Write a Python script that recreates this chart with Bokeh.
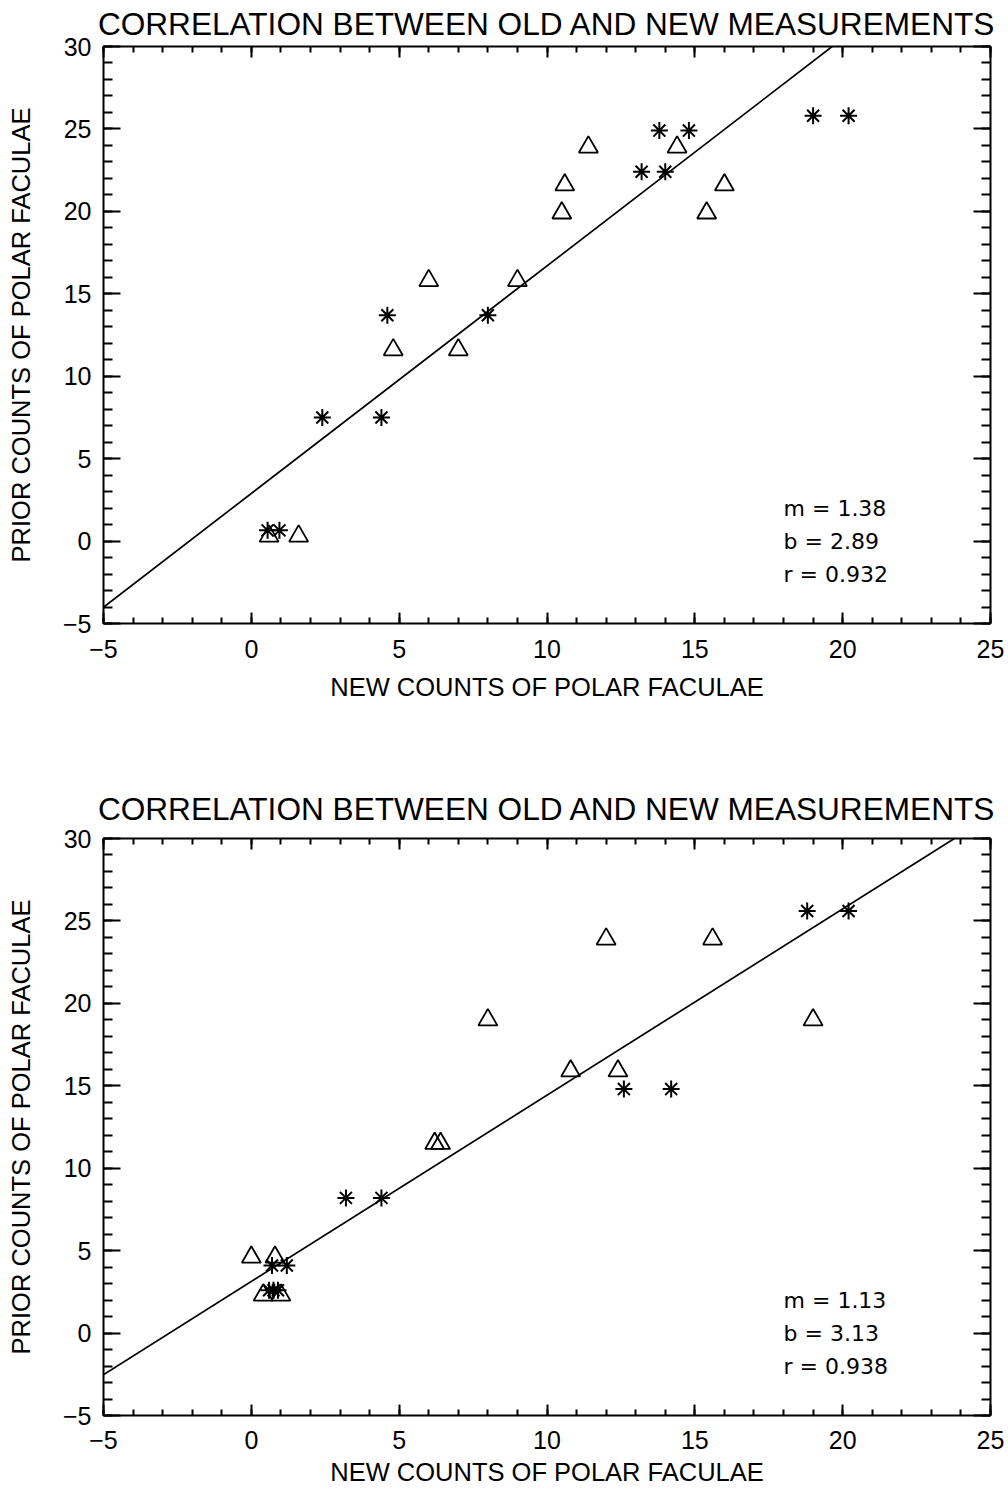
from bokeh.plotting import figure
from bokeh.models import (Range1d, LinearAxis, SingleIntervalTicker, Slope,
                          CustomLabelingPolicy)
from bokeh.layouts import column
from bokeh.embed import file_html
from bokeh.resources import INLINE
from bokeh.core.properties import value

# ---------------- data ----------------
TITLE = "CORRELATION BETWEEN OLD AND NEW MEASUREMENTS"
XLABEL = "NEW COUNTS OF POLAR FACULAE"
YLABEL = "PRIOR COUNTS OF POLAR FACULAE"
X_RANGE = [-5, 25]
Y_RANGE = [-5, 30]
TICK_OVERRIDES = {-5: "\u22125"}

# top panel
top_star_x = [0.55, 0.95, 2.4, 4.4, 4.6, 8.0, 13.2, 14.0, 13.8, 14.8, 19.0, 20.2]
top_star_y = [0.65, 0.65, 7.5, 7.5, 13.7, 13.7, 22.4, 22.4, 24.9, 24.9, 25.8, 25.8]
top_tri_x = [0.6, 1.6, 4.8, 6.0, 7.0, 9.0, 10.5, 10.6, 11.4, 14.4, 15.4, 16.0]
top_tri_y = [0.3, 0.3, 11.6, 15.8, 11.6, 15.8, 19.9, 21.6, 23.9, 23.9, 19.9, 21.6]
top_m, top_b, top_r = 1.38, 2.89, 0.932

# bottom panel
bot_star_x = [0.7, 1.2, 0.6, 0.75, 0.9, 3.2, 4.4, 12.6, 14.2, 18.8, 20.2]
bot_star_y = [4.1, 4.1, 2.6, 2.6, 2.6, 8.2, 8.2, 14.8, 14.8, 25.6, 25.6]
bot_tri_x = [0.0, 0.8, 0.4, 1.0, 6.2, 6.4, 8.0, 10.8, 12.0, 12.4, 15.6, 19.0]
bot_tri_y = [4.6, 4.6, 2.3, 2.3, 11.5, 11.5, 19.0, 15.9, 23.9, 15.9, 23.9, 19.0]
bot_m, bot_b, bot_r = 1.13, 3.13, 0.938

FONT = "Liberation Sans"
NOLABELS = "for (let i = 0; i < indices.size; i++) { indices.unset(i) }\nreturn indices"


def style_axis(ax, major_in, minor_in, show_labels):
    ax.ticker = SingleIntervalTicker(interval=5, num_minor_ticks=5)
    ax.axis_line_width = 2
    ax.axis_line_color = "black"
    ax.major_tick_in = major_in
    ax.major_tick_out = 0
    ax.minor_tick_in = minor_in
    ax.minor_tick_out = 0
    ax.major_tick_line_width = 2
    ax.minor_tick_line_width = 2
    ax.major_tick_line_color = "black"
    ax.minor_tick_line_color = "black"
    if show_labels:
        ax.major_label_text_font = FONT
        ax.major_label_text_font_size = "25px"
        ax.major_label_text_color = "black"
        ax.major_label_overrides = TICK_OVERRIDES
    else:
        ax.major_label_policy = CustomLabelingPolicy(code=NOLABELS)
        ax.major_label_text_font_size = "2px"
        ax.major_label_standoff = 0


def make_panel(sx, sy, tx, ty, m, b, r, height, border_top, border_bottom,
               tick_standoff, label_standoff, title_standoff):
    p = figure(width=1005, height=height,
               x_range=Range1d(*X_RANGE), y_range=Range1d(*Y_RANGE),
               output_backend="svg", toolbar_location=None,
               x_axis_location=None, y_axis_location=None,
               min_border_left=103, min_border_right=15,
               min_border_top=border_top, min_border_bottom=border_bottom,
               title=TITLE)
    p.xgrid.visible = False
    p.ygrid.visible = False
    p.outline_line_color = None
    p.background_fill_color = "white"
    p.border_fill_color = "white"

    p.title.text_font = FONT
    p.title.text_font_size = "31.6px"
    p.title.text_font_style = "normal"
    p.title.align = "center"
    p.title.standoff = title_standoff
    p.title.text_color = "black"

    bottom = LinearAxis()
    style_axis(bottom, 11, 6, True)
    bottom.axis_label = XLABEL
    bottom.axis_label_text_font = FONT
    bottom.axis_label_text_font_size = "25.5px"
    bottom.axis_label_text_font_style = "normal"
    bottom.axis_label_text_color = "black"
    bottom.major_label_standoff = tick_standoff
    bottom.axis_label_standoff = label_standoff
    p.add_layout(bottom, "below")

    left = LinearAxis()
    style_axis(left, 17, 9, True)
    left.axis_label = YLABEL
    left.axis_label_text_font = FONT
    left.axis_label_text_font_size = "25.5px"
    left.axis_label_text_font_style = "normal"
    left.axis_label_text_color = "black"
    left.major_label_standoff = 12
    left.axis_label_standoff = 25
    p.add_layout(left, "left")

    top = LinearAxis()
    style_axis(top, 11, 6, False)
    p.add_layout(top, "above")

    right = LinearAxis()
    style_axis(right, 17, 9, False)
    p.add_layout(right, "right")

    p.add_layout(Slope(gradient=m, y_intercept=b, line_color="black", line_width=1.7))

    p.scatter(sx, sy, marker="asterisk", size=17, line_color="black", line_width=2)
    p.scatter(tx, ty, marker="triangle", size=19, fill_color=None,
              line_color="black", line_width=1.8)

    texts = [f"m = {m:.2f}", f"b = {b:.2f}", f"r = {r:.3f}"]
    p.text(x=[18.0] * 3, y=[2.0, 0.0, -2.0], text=texts,
           text_font=value("DejaVu Sans"), text_font_size="22px",
           text_align="left", text_baseline="alphabetic", text_color="black")
    return p


p1 = make_panel(top_star_x, top_star_y, top_tri_x, top_tri_y,
                top_m, top_b, top_r, 743, 46, 120, 16, 12, 2)
p2 = make_panel(bot_star_x, bot_star_y, bot_tri_x, bot_tri_y,
                bot_m, bot_b, bot_r, 748, 95, 76, 15, 6, 16)

layout = column(p1, p2, spacing=0)
open("out.html", "w").write(file_html(layout, INLINE))
